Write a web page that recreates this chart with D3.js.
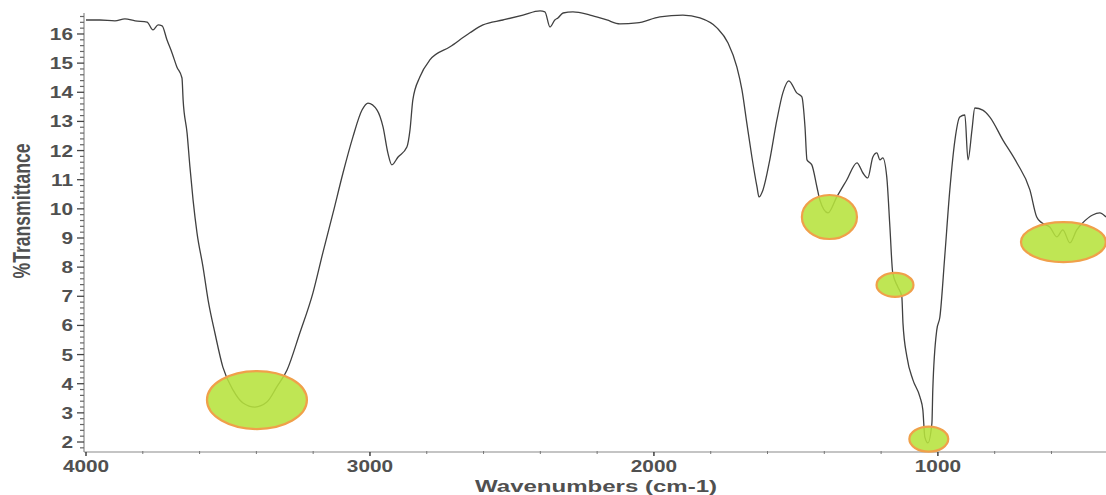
<!DOCTYPE html>
<html>
<head>
<meta charset="utf-8">
<script src="https://cdn.jsdelivr.net/npm/d3@7"></script>
<style>
  html, body { margin: 0; padding: 0; background: #fff; }
  svg { display: block; }
  text { font-family: "Liberation Sans", Arial, sans-serif; }
</style>
</head>
<body>
<svg id="chart" width="1106" height="495"></svg>
<script>
// ---- data ----
const wavenumbers = [4000,3951,3898,3863,3827,3785,3764,3746,3732,3715,3697,3680,3662,3658,3644,3634,3623,3609,3588,3570,3546,3518,3482,3447,3405,3363,3328,3292,3247,3201,3166,3130,3095,3060,3028,3007,2975,2954,2937,2923,2901,2870,2859,2849,2824,2789,2718,2648,2602,2532,2461,2401,2384,2366,2349,2338,2320,2285,2225,2166,2120,2060,1979,1898,1838,1778,1739,1708,1690,1673,1655,1637,1630,1616,1592,1567,1546,1525,1497,1479,1468,1461,1444,1426,1416,1387,1356,1321,1285,1264,1247,1229,1215,1204,1194,1180,1169,1159,1141,1127,1123,1109,1088,1063,1053,1046,1035,1021,1018,1004,993,976,958,940,923,905,894,880,870,842,817,771,722,676,652,634,606,581,560,535,511,490,455,430,408];
const transmittance = [16.48,16.48,16.45,16.52,16.45,16.41,16.14,16.31,16.28,15.80,15.35,14.87,14.49,13.74,12.60,11.44,10.31,9.17,8.01,6.87,5.74,4.57,3.78,3.34,3.20,3.37,3.89,4.47,5.74,7.11,8.49,9.86,11.23,12.47,13.39,13.63,13.39,12.81,11.92,11.51,11.78,12.12,12.71,13.74,14.53,15.11,15.56,16.04,16.31,16.48,16.65,16.79,16.76,16.24,16.48,16.55,16.72,16.76,16.65,16.48,16.35,16.38,16.59,16.65,16.55,16.21,15.69,14.87,14.08,12.95,11.78,10.75,10.41,10.65,11.68,13.05,13.98,14.39,13.98,13.84,12.81,11.68,11.51,10.75,10.31,9.86,10.41,10.99,11.58,11.23,11.06,11.78,11.92,11.68,11.75,11.09,9.38,7.80,7.32,6.98,6.08,4.92,4.13,3.54,3.10,2.17,1.97,2.65,3.78,5.84,6.29,8.35,10.65,12.36,13.15,13.22,11.68,12.71,13.46,13.39,13.15,12.36,11.58,10.65,9.72,9.52,9.38,9.04,9.28,8.83,9.28,9.52,9.79,9.86,9.72];

// highlighted peaks (centre and extent in data units)
const peakWavenumbers   = [3398, 1382, 1151, 1032, 558];
const peakTransmittance = [3.44, 9.72, 7.39, 2.10, 8.86];
const peakSpanWn        = [352, 194, 130, 137, 299];
const peakSpanT         = [1.99, 1.51, 0.82, 0.86, 1.37];

const xTickValues = [4000, 3000, 2000, 1000];
const yTickValues = [2,3,4,5,6,7,8,9,10,11,12,13,14,15,16];
const xTitle = "Wavenumbers (cm-1)";
const yTitle = "%Transmittance";

// ---- layout ----
const svg = d3.select("#chart");
const x = d3.scaleLinear().domain([4000, 408]).range([86, 1106]);
const y = d3.scaleLinear().domain([1.657, 16.72]).range([452, 13]);
const STRETCH = 1.3;

// x axis
const gx = svg.append("g").attr("transform", `translate(0,${y.range()[0]})`);
gx.append("line").attr("x1", 84).attr("x2", 1106).attr("y1", 0).attr("y2", 0)
  .attr("stroke", "#8a8a8a").attr("stroke-width", 1.2);
const xMinor = d3.range(3800, 400, -200).filter(v => !xTickValues.includes(v));
gx.selectAll("line.minor").data(xMinor).enter().append("line")
  .attr("class","minor").attr("x1", d => x(d)).attr("x2", d => x(d))
  .attr("y1", -1).attr("y2", 2).attr("stroke", "#777");
gx.selectAll("line.major").data(xTickValues).enter().append("line")
  .attr("class","major").attr("x1", d => x(d)).attr("x2", d => x(d))
  .attr("y1", 0).attr("y2", 4).attr("stroke", "#333").attr("stroke-width", 1.4);
gx.selectAll("text.tl").data(xTickValues).enter().append("text")
  .attr("class","tl")
  .attr("transform", d => `translate(${x(d)},20) scale(${STRETCH},1)`)
  .attr("text-anchor", "middle").attr("font-size", 16).attr("font-weight", "bold")
  .attr("fill", "#505050").text(d => d);

// y axis
const gy = svg.append("g").attr("transform", `translate(84,0)`);
gy.append("line").attr("x1", 0).attr("x2", 0).attr("y1", y.range()[0]).attr("y2", y.range()[1])
  .attr("stroke", "#8a8a8a").attr("stroke-width", 1.2);
const yMinor = d3.range(1.8, 16.71, 0.2).map(v => +v.toFixed(1)).filter(v => Math.abs(v - Math.round(v)) > 0.01);
gy.selectAll("line.minor").data(yMinor).enter().append("line")
  .attr("class","minor").attr("x1", -4).attr("x2", 0)
  .attr("y1", d => y(d)).attr("y2", d => y(d)).attr("stroke", "#666").attr("stroke-width", 1.2);
gy.selectAll("line.major").data(yTickValues).enter().append("line")
  .attr("class","major").attr("x1", -7).attr("x2", 0)
  .attr("y1", d => y(d)).attr("y2", d => y(d)).attr("stroke", "#444").attr("stroke-width", 1.3);
gy.selectAll("text.tl").data(yTickValues).enter().append("text")
  .attr("class","tl")
  .attr("transform", d => `translate(-11,${y(d) + 6}) scale(${STRETCH},1)`)
  .attr("text-anchor", "end").attr("font-size", 16).attr("font-weight", "bold")
  .attr("fill", "#505050").text(d => d);

// titles
svg.append("text")
  .attr("transform", `translate(30,211) scale(${STRETCH},1) rotate(-90)`)
  .attr("text-anchor", "middle").attr("font-size", 18).attr("font-weight", "bold")
  .attr("textLength", 135).attr("lengthAdjust", "spacingAndGlyphs")
  .attr("fill", "#505050").text(yTitle);
svg.append("text")
  .attr("x", 596).attr("y", 492)
  .attr("text-anchor", "middle").attr("font-size", 17).attr("font-weight", "bold")
  .attr("textLength", 242).attr("lengthAdjust", "spacingAndGlyphs")
  .attr("fill", "#505050").text(xTitle);

// spectrum
const pts = wavenumbers.map((w, i) => [w, transmittance[i]]);
const line = d3.line().x(d => x(d[0])).y(d => y(d[1])).curve(d3.curveMonotoneX);
svg.append("path").datum(pts).attr("d", line)
  .attr("fill", "none").attr("stroke", "#404040").attr("stroke-width", 1.3)
  .attr("stroke-linejoin", "round");

// highlighted peaks
const peaks = peakWavenumbers.map((w, i) => ({w, t: peakTransmittance[i], sw: peakSpanWn[i], st: peakSpanT[i]}));
svg.append("g").selectAll("ellipse").data(peaks).enter().append("ellipse")
  .attr("cx", d => x(d.w)).attr("cy", d => y(d.t))
  .attr("rx", d => Math.abs(x(d.w + d.sw / 2) - x(d.w)))
  .attr("ry", d => Math.abs(y(d.t + d.st / 2) - y(d.t)))
  .attr("fill", "#b6e23c").attr("fill-opacity", 0.88)
  .attr("stroke", "#f0a04a").attr("stroke-width", 2.2);
</script>
</body>
</html>
